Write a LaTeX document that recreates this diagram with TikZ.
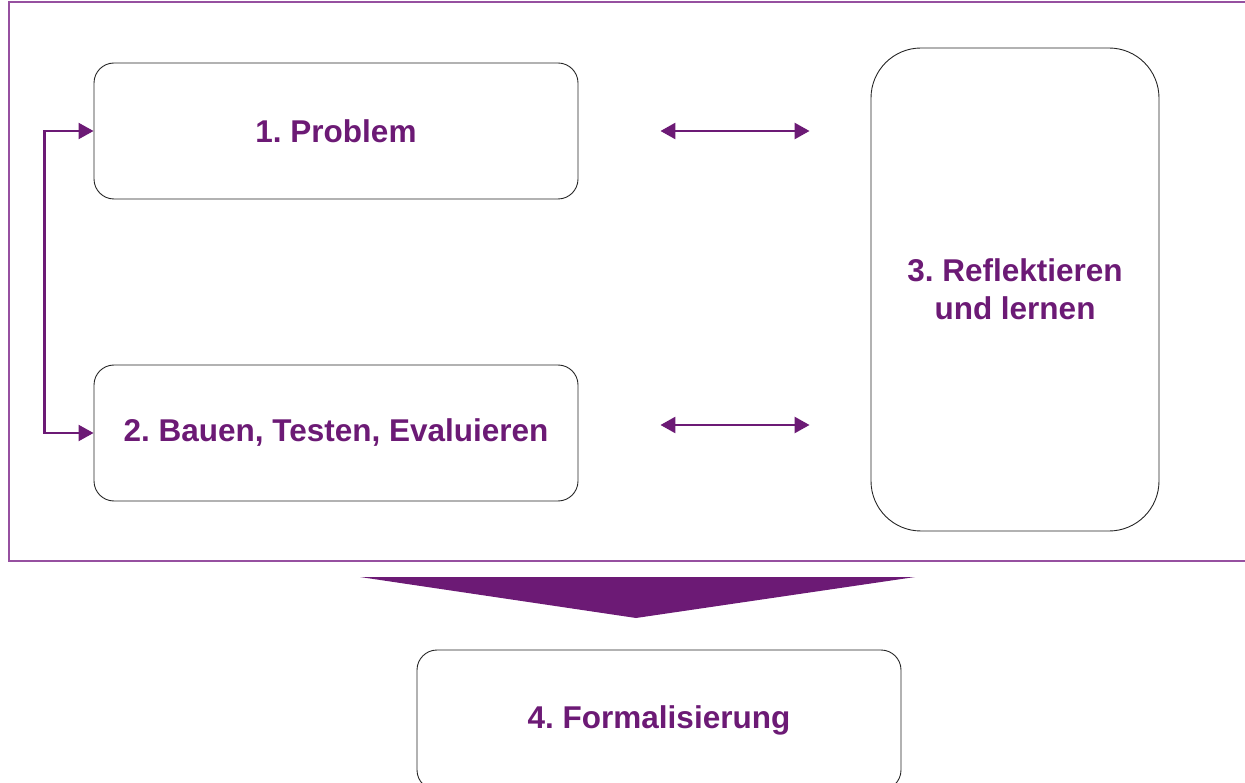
\documentclass[tikz,border=0pt]{standalone}
\usepackage{fontspec}
\setmainfont{Liberation Sans}
\frenchspacing
\usetikzlibrary{arrows.meta,calc}
\definecolor{lila}{RGB}{108,26,117}
\definecolor{lilaframe}{RGB}{150,80,160}
\tikzset{
  box/.style={draw=black!85,line width=0.9pt,rounded corners=20pt,
    minimum width=484pt,minimum height=136pt,inner sep=0pt,
    font=\fontsize{31.5}{38}\selectfont\bfseries,text=lila,align=center},
  link/.style={draw=lila,line width=2.6pt,
    {Triangle[length=15pt,width=16pt]}-{Triangle[length=15pt,width=16pt]}}
}
\begin{document}
\begin{tikzpicture}[x=1pt,y=-1pt]
\useasboundingbox (0,0) rectangle (1245,783);
%frame round the cycle
\draw[lilaframe,line width=1.3pt](9,2)rectangle(1270,561);
%boxes
\node[box] (problem) at (336,131) {1. Problem};
\node[box] (bauen) at (336,433) {2. Bauen, Testen, Evaluieren};
\node[box,rounded corners=50pt,minimum width=288pt,minimum height=483pt] (reflekt) at (1015,289.5) {3. Reflektieren\\und lernen};
\node[box,minimum height=140pt] (formal) at (659,720) {4. Formalisierung};
%arrows
\draw[link,shorten <=82pt,shorten >=61pt] (problem.east) -- (problem.east -| reflekt.west);
\draw[link,shorten <=82pt,shorten >=61pt] ($(bauen.east)+(0,-8)$) -- ($(bauen.east -| reflekt.west)+(0,-8)$);
\draw[link,line width=2.2pt] (problem.west) -- ++(-49,0) |- (bauen.west);
%big arrow down
\fill[lila](360,577)--(915,577)--(636,618)--cycle;
\end{tikzpicture}
\end{document}
